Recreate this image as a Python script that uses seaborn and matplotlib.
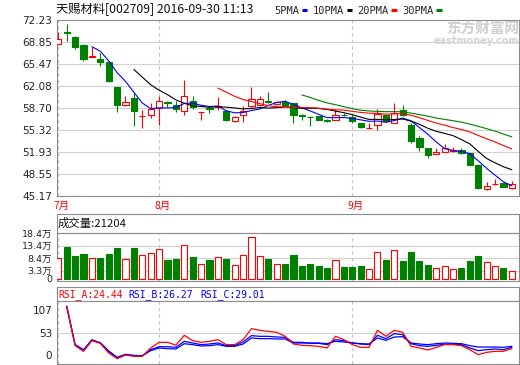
import numpy as np
import pandas as pd
import matplotlib
matplotlib.use("Agg")
import matplotlib.pyplot as plt
from matplotlib.lines import Line2D
import seaborn as sns

sns.set_style("white")
plt.rcParams['font.family'] = ['DejaVu Sans', 'Noto Sans CJK SC']

# ---------------- data ----------------
opens = [68.58, 70.40, 69.60, 68.32, 66.55, 66.27, 65.74, 61.95, 59.10, 60.25,
         57.40, 57.56, 58.70, 59.68, 59.21, 58.18, 59.83, 58.05, 58.64, 58.92,
         58.29, 56.64, 57.67, 58.95, 59.21, 59.75, 59.32, 59.57, 59.48, 57.60,
         57.35, 57.41, 56.85, 56.85, 57.68, 57.31, 56.39, 55.60, 56.02, 57.67,
         56.39, 58.44, 56.13, 54.07, 52.53, 51.65, 52.00, 52.15, 52.27, 51.76,
         49.95, 46.20, 46.95, 47.13, 46.36]
highs = [70.43, 71.56, 69.75, 68.58, 68.06, 67.08, 65.90, 62.00, 60.60, 61.02,
         58.44, 59.48, 60.60, 59.72, 59.83, 62.96, 60.50, 58.13, 59.06, 60.40,
         58.44, 57.41, 59.06, 61.94, 60.50, 61.20, 59.72, 60.00, 59.50, 57.82,
         57.50, 57.45, 57.00, 58.44, 58.00, 57.55, 56.40, 56.39, 58.55, 57.70,
         59.48, 59.20, 56.39, 54.32, 52.60, 52.53, 53.10, 52.70, 52.50, 51.85,
         50.10, 47.38, 47.75, 47.20, 47.53]
lows = [68.50, 68.98, 67.81, 66.00, 66.50, 65.12, 62.66, 58.02, 58.95, 55.97,
        55.56, 57.16, 56.13, 58.86, 58.02, 57.67, 58.60, 56.79, 57.93, 58.33,
        56.74, 56.48, 56.48, 58.86, 59.06, 59.50, 59.21, 59.20, 56.39, 56.79,
        55.86, 56.80, 56.50, 56.79, 57.40, 56.45, 55.60, 55.50, 55.25, 56.60,
        56.39, 57.50, 53.30, 52.16, 50.99, 51.60, 51.90, 51.95, 51.70, 49.90,
        46.20, 46.10, 46.85, 46.55, 46.20]
closes = [69.24, 70.30, 68.12, 66.31, 66.65, 65.74, 62.92, 59.10, 59.63, 58.18,
          57.50, 58.60, 59.72, 59.52, 58.55, 60.60, 58.86, 58.08, 58.55, 58.95,
          56.90, 57.31, 58.29, 60.14, 60.09, 59.65, 59.57, 59.21, 57.67, 57.50,
          57.30, 56.90, 56.75, 57.62, 57.60, 56.64, 55.77, 55.65, 57.82, 56.64,
          57.93, 57.67, 53.55, 52.68, 51.50, 51.96, 52.53, 52.20, 51.76, 49.95,
          46.45, 46.71, 47.00, 46.60, 46.97]
volumes = [8.3, 12.7, 9.2, 10.0, 8.3, 8.3, 10.0, 12.3, 7.9, 12.3,
           9.5, 10.3, 11.9, 7.6, 8.0, 13.5, 8.7, 5.9, 7.6, 8.7,
           8.0, 5.5, 9.5, 16.7, 9.2, 8.0, 6.0, 6.0, 9.6, 5.2,
           6.0, 5.2, 4.4, 7.6, 4.8, 4.8, 5.2, 3.9, 10.8, 7.6,
           11.6, 7.2, 10.8, 7.2, 5.6, 4.4, 5.2, 4.0, 4.4, 7.2,
           9.2, 6.8, 5.2, 4.4, 3.2]
rsi_a = [116, 23, 9.4, 34.6, 28.3, 5.4, -8, 0.7, -2.4, -2.4,
         17.3, 30.7, 30.7, 24, 47.3, 34.6, 30.7, 33.1, 37.0, 25.2,
         25.2, 37.0, 63.0, 59.1, 56.7, 54.4, 45.0, 26.7, 23.6, 22.8,
         21.2, 17.3, 44.9, 37.0, 25.2, 18.9, 18.9, 59.1, 44.9, 59.1,
         54.4, 21.2, 17.3, 12.5, 18.9, 25.2, 25.2, 22.8, 13.3, 1.5,
         7.0, 9.4, 9.4, 15.7]
rsi_b = [116, 25, 11.7, 37.0, 29.1, 9.4, -6.4, 1.5, -1.0, -1.6,
         13.3, 20.4, 20.4, 19, 33.1, 29.1, 25.2, 26.7, 29.1, 22.8,
         22.8, 31.5, 46.5, 44.9, 44.9, 43.3, 42.5, 30.7, 30.7, 28.3,
         28.3, 25.2, 37.0, 34.6, 29.1, 26.7, 25.2, 47.3, 39.4, 51.2,
         48.8, 27.5, 22.8, 21.2, 23.6, 26.7, 26.7, 25.2, 17.3, 11.0,
         13.3, 14.9, 13.3, 18.9]
rsi_c = [116, 25, 13.3, 35.4, 29.9, 10.2, -4.8, 2.3, -0.1, -0.8,
         11.0, 17.3, 15.7, 15, 27.5, 25.2, 22.0, 22.8, 25.2, 21.2,
         21.2, 26.7, 41.0, 39.4, 39.4, 38.6, 38.6, 29.1, 29.1, 29.1,
         29.1, 27.5, 33.1, 31.5, 29.1, 27.5, 26.7, 41.0, 35.4, 43.3,
         44.0, 29.1, 26.7, 25.2, 27.5, 29.1, 28.3, 27.5, 22.8, 19.6,
         19.6, 19.6, 18.9, 21.2]

price_ticks = [45.17, 48.55, 51.93, 55.32, 58.70, 62.08, 65.47, 68.85, 72.23]
price_labels = ["45.17", "48.55", "51.93", "55.32", "58.70", "62.08", "65.47", "68.85", "72.23"]
vol_ticks = [0, 3.3, 8.4, 13.4, 18.4]
vol_labels = ["0", "3.3万", "8.4万", "13.4万", "18.4万"]
rsi_ticks = [0, 53, 107]
rsi_labels = ["0", "53", "107"]
month_pos = [0, 12, 35]
month_labels = ["7月", "8月", "9月"]
title_text = "天赐材料[002709] 2016-09-30 11:13"
vol_title = "成交量:21204"
rsi_titles = ["RSI_A:24.44", "RSI_B:26.27", "RSI_C:29.01"]
ma_periods = [5, 10, 20, 30]
ma_names = ["5PMA", "10PMA", "20PMA", "30PMA"]

# ---------------- style ----------------
RED, GREEN, BLUE, BLACK = "#ff0000", "#008000", "#0000ff", "#000000"
ma_colors = [BLUE, BLACK, RED, GREEN]
SPINE = "#8c8c8c"
GRID = "#d2d2d2"
DASH = "#c4c4c4"
LBL = "#222222"

W, H = 520, 365
fig = plt.figure(figsize=(W / 100, H / 100), dpi=100)
fig.patch.set_facecolor("white")


def box(x0, y0, x1, y1):
    return [x0 / W, 1 - y1 / H, (x1 - x0) / W, (y1 - y0) / H]


n = len(closes)
idx = np.arange(n)
o = np.array(opens); c = np.array(closes)
h = np.array(highs); l = np.array(lows)
up = c >= o
cols = np.where(up, RED, GREEN)
XL = (-0.155, 54.85)


def style_axes(ax, lsize=7.5):
    for s in ax.spines.values():
        s.set_color(SPINE)
        s.set_linewidth(0.8)
    ax.set_xticks([])
    ax.tick_params(axis="y", length=0, pad=3.4, labelsize=lsize, labelcolor=LBL)
    ax.set_xlim(*XL)
    ax.set_facecolor("white")


# ---------------- main price panel ----------------
ax = fig.add_axes(box(57, 20, 519, 196))
style_axes(ax)
ax.set_ylim(price_ticks[0], price_ticks[-1])
ax.set_yticks(price_ticks)
ax.set_yticklabels(price_labels)
for t in price_ticks[1:-1]:
    ax.axhline(t, color=GRID, lw=0.8, zorder=0)
for p in month_pos:
    ax.axvline(p, color=DASH, lw=0.8, ls=(0, (3, 3)), zorder=0)

ax.vlines(idx, l, h, colors=cols, lw=0.8, zorder=2)
body_b = np.minimum(o, c)
body_h = np.maximum(np.abs(c - o), 0.03)
ax.bar(idx, body_h, bottom=body_b, width=0.75,
       color=np.where(up, "white", GREEN), edgecolor=cols, linewidth=0.8, zorder=3)

cs = pd.Series(closes)
for p, col in zip(ma_periods, ma_colors):
    ma = cs.rolling(p).mean()
    sns.lineplot(x=idx, y=ma.values, ax=ax, color=col, lw=0.8, errorbar=None, zorder=4)
ax.set_xlim(*XL)
ax.set_ylim(price_ticks[0], price_ticks[-1])
ax.set_xlabel(""); ax.set_ylabel("")

for p, lab in zip(month_pos, month_labels):
    ax.text(p - 0.6, -0.057, lab, transform=ax.get_xaxis_transform(), ha="left",
            va="center", color=RED, fontsize=7.5, family=["Noto Sans CJK SC"])

# title and legend
fig.text(56 / W, 1 - 10 / H, title_text, ha="left", va="center", fontsize=8.8,
         color="#111111", family=["Noto Sans CJK SC", "DejaVu Sans"])
handles = [Line2D([], [], color=col, lw=2.2, solid_capstyle="butt") for col in ma_colors]
fig.legend(handles, ma_names, loc="center left", bbox_to_anchor=(274 / W, 1 - 11 / H),
           ncol=4, markerfirst=False, frameon=False, handlelength=0.5, handletextpad=0.26,
           columnspacing=0.55, borderpad=0, borderaxespad=0,
           prop={"family": "DejaVu Sans Mono", "size": 7.5})

# watermark
fig.text(519 / W, 1 - 29 / H, "东方财富网", ha="right", va="center", fontsize=10.5,
         color="#cfcfcf", weight="bold", family=["Noto Sans CJK SC"])
fig.text(519 / W, 1 - 41 / H, "eastmoney.com", ha="right", va="center", fontsize=7,
         color="#d4d4d4", weight="bold", family=["DejaVu Sans"])

# ---------------- volume panel ----------------
axvh = fig.add_axes(box(57, 214.3, 519, 232.7))
style_axes(axvh)
axvh.set_yticks([])
axvh.text(0.002, 0.5, vol_title, transform=axvh.transAxes, ha="left", va="center",
          fontsize=8.2, color="#111111", family=["Noto Sans CJK SC"])

axv = fig.add_axes(box(57, 232.7, 519, 281))
style_axes(axv, lsize=6.8)
axv.set_ylim(-0.8, 18.52)
axv.set_yticks(vol_ticks)
axv.set_yticklabels(vol_labels)
for lab in axv.get_yticklabels():
    lab.set_fontfamily(["DejaVu Sans", "Noto Sans CJK SC"])
for t in vol_ticks[1:-1]:
    axv.axhline(t, color=GRID, lw=0.8, zorder=0)
for p in month_pos:
    axv.axvline(p, color=DASH, lw=0.8, ls=(0, (3, 3)), zorder=0)
axv.bar(idx, volumes, width=0.72, color=np.where(up, "white", GREEN),
        edgecolor=cols, linewidth=0.8, zorder=3)
axv.set_xlim(*XL)

# ---------------- RSI panel ----------------
axrh = fig.add_axes(box(57, 287.3, 519, 301))
style_axes(axrh)
axrh.set_yticks([])
for frac, txt, col in zip([0.002, 0.154, 0.31], rsi_titles, [RED, BLUE, BLUE]):
    axrh.text(frac, 0.5, txt, transform=axrh.transAxes, ha="left", va="center",
              fontsize=7, color=col, family="DejaVu Sans Mono")

axr = fig.add_axes(box(57, 301, 519, 364))
style_axes(axr)
axr.set_ylim(-20.6, 128.5)
axr.set_yticks(rsi_ticks)
axr.set_yticklabels(rsi_labels)
axr.axhline(53, color=GRID, lw=0.8, zorder=0)
for p in month_pos:
    axr.axvline(p, color=DASH, lw=0.8, ls=(0, (3, 3)), zorder=0)
rx = idx[1:]
sns.lineplot(x=rx, y=rsi_c, ax=axr, color=BLUE, lw=0.9, errorbar=None, zorder=3)
sns.lineplot(x=rx, y=rsi_b, ax=axr, color=BLUE, lw=0.9, errorbar=None, zorder=3)
sns.lineplot(x=rx, y=rsi_a, ax=axr, color=RED, lw=0.9, errorbar=None, zorder=4)
axr.set_xlim(*XL)
axr.set_ylim(-20.6, 128.5)
axr.set_xlabel(""); axr.set_ylabel("")

fig.savefig("out.png", dpi=100)
